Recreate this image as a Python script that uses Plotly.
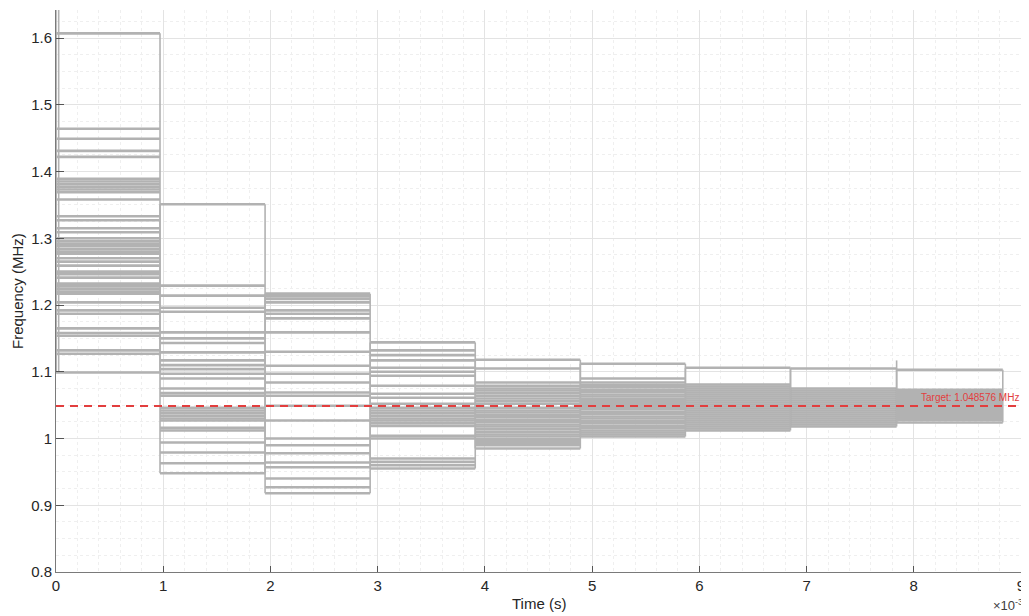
import plotly.graph_objects as go

# Step boundaries (milliseconds -> converted to seconds below)
step_times_ms = [0.0, 0.97, 1.95, 2.93, 3.91, 4.89, 5.87, 6.85, 7.84, 8.83]

# Frequency levels (MHz) observed within each step interval
levels_1 = [1.607, 1.464, 1.449, 1.431, 1.422, 1.389, 1.385, 1.381, 1.377, 1.373, 1.369, 1.358,
            1.333, 1.327, 1.315, 1.309, 1.300, 1.296, 1.292, 1.288, 1.284, 1.280, 1.277, 1.270,
            1.265, 1.259, 1.250, 1.246, 1.241, 1.232, 1.228, 1.224, 1.220, 1.217, 1.204, 1.192,
            1.187, 1.165, 1.158, 1.154, 1.132, 1.127, 1.099]
levels_2 = [1.351, 1.229, 1.214, 1.196, 1.190, 1.159, 1.150, 1.143, 1.129, 1.117, 1.110,
            1.104, 1.097, 1.090, 1.075, 1.068, 1.064, 1.046, 1.042, 1.038, 1.034, 1.030,
            1.027, 1.016, 1.012, 0.994, 0.979, 0.963, 0.948]
levels_3 = [1.217, 1.213, 1.209, 1.204, 1.192, 1.187, 1.180, 1.159, 1.130, 1.109, 1.097,
            1.084, 1.069, 1.064, 1.049, 1.027, 1.000, 0.990, 0.978, 0.964, 0.957, 0.940,
            0.927, 0.918]
levels_4 = [1.144, 1.132, 1.125, 1.117, 1.106, 1.100, 1.094, 1.079, 1.067, 1.061, 1.052,
            1.046, 1.042, 1.038, 1.034, 1.030, 1.027, 1.023, 1.019, 1.004, 1.000, 0.970,
            0.965, 0.960, 0.955]
levels_5 = [1.118, 1.105, 1.084, 1.079, 1.075, 1.072, 1.068, 1.064, 1.060, 1.056, 1.052,
            1.046, 1.042, 1.039, 1.035, 1.032, 1.028, 1.025, 1.021, 1.018, 1.014, 1.010,
            1.006, 1.003, 0.999, 0.996, 0.993, 0.990, 0.985]
levels_6 = [1.112, 1.090, 1.084, 1.080, 1.077, 1.073, 1.070, 1.066, 1.063, 1.059, 1.056,
            1.053, 1.050, 1.047, 1.044, 1.040, 1.037, 1.033, 1.030, 1.026, 1.023, 1.019,
            1.016, 1.012, 1.009, 1.006, 1.003]
levels_7 = [1.106, 1.081, 1.078, 1.075, 1.072, 1.069, 1.066, 1.063, 1.060, 1.057, 1.054,
            1.051, 1.048, 1.045, 1.042, 1.039, 1.036, 1.033, 1.030, 1.027, 1.024, 1.021,
            1.018, 1.015, 1.012]
levels_8 = [1.105, 1.075, 1.072, 1.069, 1.066, 1.063, 1.060, 1.057, 1.054, 1.051, 1.048,
            1.045, 1.042, 1.039, 1.036, 1.033, 1.030, 1.027, 1.024, 1.021, 1.018]
levels_9 = [1.103, 1.073, 1.070, 1.067, 1.064, 1.061, 1.058, 1.055, 1.052, 1.049, 1.046,
            1.043, 1.040, 1.037, 1.034, 1.031, 1.028, 1.024]
all_levels = [levels_1, levels_2, levels_3, levels_4, levels_5, levels_6, levels_7, levels_8, levels_9]

# Start-up transient and late glitch
spike_times_ms = [0.0, 0.025]
spike_low = 1.099
spike_high = 1.645
glitch_time_ms = 7.84
glitch_high = 1.117

target = 1.048576
target_label = "Target: 1.048576 MHz"

x_ticks = [0, 1, 2, 3, 4, 5, 6, 7, 8, 9]
y_ticks = [0.8, 0.9, 1.0, 1.1, 1.2, 1.3, 1.4, 1.5, 1.6]
y_ticktext = ["0.8", "0.9", "1", "1.1", "1.2", "1.3", "1.4", "1.5", "1.6"]

def s(ms):
    return ms / 1000

GREY = "rgb(178,178,178)"
fig = go.Figure()

hx, hy, vx, vy = [], [], [], []
for k, lev in enumerate(all_levels):
    t0, t1 = s(step_times_ms[k]), s(step_times_ms[k + 1])
    for L in lev:
        hx += [t0, t1, None]
        hy += [L, L, None]
    lo, hi = min(lev), max(lev)
    vx += [t0, t0, None, t1, t1, None]
    vy += [lo, hi, None, lo, hi, None]
for t in spike_times_ms:
    vx += [s(t), s(t), None]
    vy += [spike_low, spike_high, None]
vx += [s(glitch_time_ms), s(glitch_time_ms), None]
vy += [levels_9[0], glitch_high, None]

fig.add_trace(go.Scatter(x=hx, y=hy, mode="lines", line=dict(color=GREY, width=2.6),
                         hoverinfo="skip", showlegend=False))
fig.add_trace(go.Scatter(x=vx, y=vy, mode="lines", line=dict(color=GREY, width=1.6),
                         hoverinfo="skip", showlegend=False))

RED = "rgb(226,62,62)"
fig.add_trace(go.Scatter(x=[s(x_ticks[0]), s(x_ticks[-1])], y=[target, target], mode="lines",
                         line=dict(color=RED, width=2, dash="8px,6px"),
                         hoverinfo="skip", showlegend=False, cliponaxis=False))
fig.add_annotation(x=s(x_ticks[-1]), y=target, text=target_label, showarrow=False,
                   xanchor="right", yanchor="bottom", yshift=1,
                   font=dict(color=RED, size=10, family="Liberation Sans"))

# axis titles and exponent label
fig.add_annotation(x=0.5, y=0, xref="paper", yref="paper", yshift=-42, text="Time (s)",
                   showarrow=False, xanchor="center", yanchor="bottom",
                   font=dict(size=15, color="#262626", family="Liberation Sans"))
fig.add_annotation(x=0, y=0.5, xref="paper", yref="paper", xshift=-39, text="Frequency (MHz)",
                   showarrow=False, textangle=-90, xanchor="center", yanchor="middle",
                   font=dict(size=15, color="#262626", family="Liberation Sans"))
fig.add_annotation(x=1.0, y=0, xref="paper", yref="paper", yshift=-43, xshift=4,
                   text="×10<sup>-3</sup>", showarrow=False, xanchor="right", yanchor="bottom",
                   font=dict(size=13, color="#404040", family="Liberation Sans"))

# The page places the figure 8px in from the top-left corner, so the figure is
# sized 8px smaller to keep the plot area where it is in the reference.
fig.update_layout(
    width=1021, height=608,
    margin=dict(l=48, r=8, t=2, b=44, autoexpand=False),
    paper_bgcolor="white", plot_bgcolor="white",
    font=dict(family="Liberation Sans", size=15, color="#262626"),
    xaxis=dict(range=[0, s(9)], tickvals=[s(v) for v in x_ticks],
               ticktext=[str(v) for v in x_ticks], automargin=False,
               showline=True, linecolor="#7a7a7a", linewidth=1, mirror=False,
               ticks="inside", ticklen=6, tickcolor="#555",
               showgrid=True, gridcolor="#e3e3e3", gridwidth=1, zeroline=False,
               minor=dict(dtick=s(0.2), showgrid=True, gridcolor="#efefef", griddash="dot")),
    yaxis=dict(range=[0.8, 1.642], tickvals=y_ticks, ticktext=y_ticktext, automargin=False,
               showline=True, linecolor="#7a7a7a", linewidth=1, mirror=False,
               ticks="inside", ticklen=8, tickcolor="#555",
               showgrid=True, gridcolor="#e3e3e3", gridwidth=1, zeroline=False,
               minor=dict(dtick=0.025, showgrid=True, gridcolor="#efefef", griddash="dot")),
)

fig.write_html("out.html")
